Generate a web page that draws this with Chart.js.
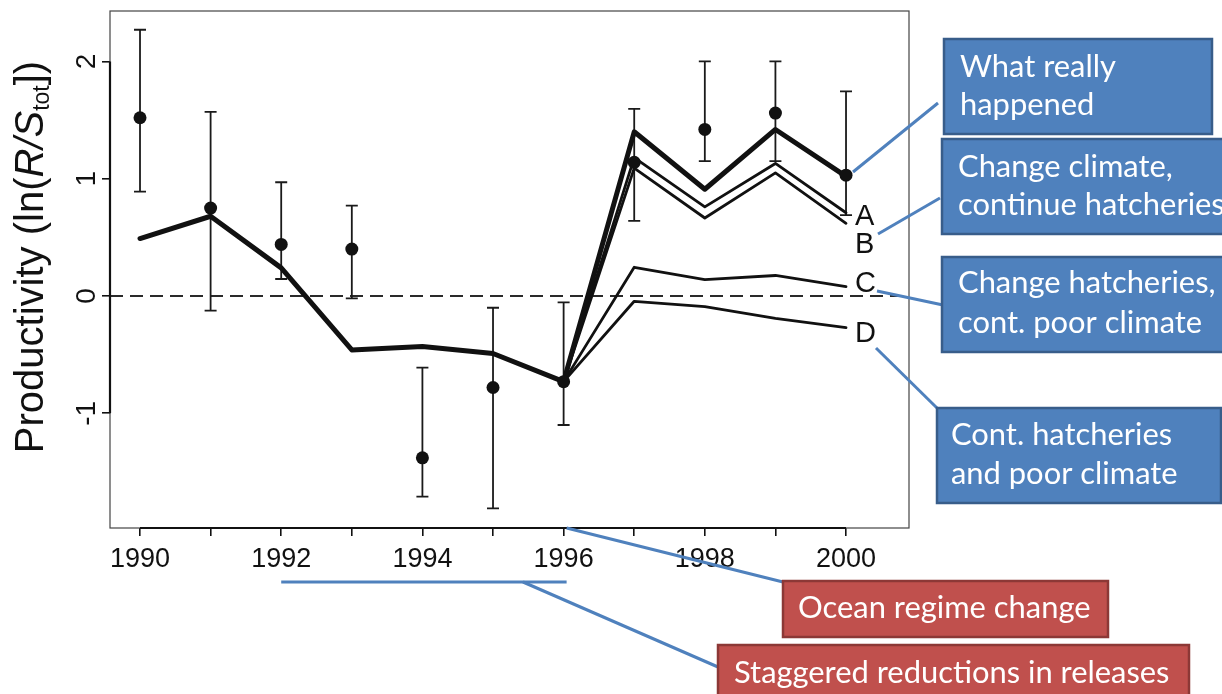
<!DOCTYPE html>
<html>
<head>
<meta charset="utf-8">
<title>Productivity scenarios 1990–2000</title>
<script src="https://cdn.jsdelivr.net/npm/chart.js@4/dist/chart.umd.min.js"></script>
<style>
  html, body { margin: 0; padding: 0; background: #ffffff; }
  canvas { display: block; }
</style>
</head>
<body>
<canvas id="chart" width="1222" height="694"></canvas>
<script>
// ---- data -------------------------------------------------------------
const years = [1990, 1991, 1992, 1993, 1994, 1995, 1996, 1997, 1998, 1999, 2000];
const observed     = [1.52, 0.75, 0.44, 0.40, -1.38, -0.78, -0.73, 1.14, 1.42, 1.56, 1.03];
const observedHigh = [2.27, 1.57, 0.97, 0.77, -0.61, -0.10, -0.055, 1.595, 2.00, 2.00, 1.745];
const observedLow  = [0.89, -0.125, 0.145, -0.02, -1.71, -1.81, -1.10, 0.64, 1.15, 1.15, 0.69];

const fitYears  = [1990, 1991, 1992, 1993, 1994, 1995, 1996];
const fitValues = [0.49, 0.68, 0.24, -0.46, -0.43, -0.49, -0.73];

const scenarioYears = [1996, 1997, 1998, 1999, 2000];
const actualPath = [-0.73, 1.40, 0.91, 1.42, 1.02];
const scenarioA  = [-0.73, 1.18, 0.76, 1.13, 0.71];
const scenarioB  = [-0.73, 1.09, 0.665, 1.05, 0.62];
const scenarioC  = [-0.73, 0.245, 0.14, 0.175, 0.08];
const scenarioD  = [-0.73, -0.045, -0.09, -0.19, -0.27];

const yTickValues = [-1, 0, 1, 2];
const scenarioLetters = ['A', 'B', 'C', 'D'];
const reductionYears = [1992, 1996];
const regimeShiftYear = 1996;

// ---- helpers ----------------------------------------------------------
const pts = (xs, ys) => xs.map((v, i) => ({ x: v, y: ys[i] }));
const R_FONT = '"Liberation Sans", Arial, Helvetica, sans-serif';
const NOTE_FONT = 'Lato, "Open Sans", sans-serif';

function lineSet(label, xs, ys, width, order) {
  return {
    label, data: pts(xs, ys), showLine: true,
    borderColor: '#111', borderWidth: width, pointRadius: 0,
    borderJoinStyle: 'round', borderCapStyle: 'round', fill: false, order
  };
}

// Callout boxes (text, fill, frame) and their leader lines
const noteBoxes = [
  { x: 944, y: 39,  w: 268, h: 95, fill: '#4F81BD', edge: '#385D8A', tx: 960, lines: ['What really', 'happened'], base: [77, 115] },
  { x: 942, y: 139, w: 300, h: 95, fill: '#4F81BD', edge: '#385D8A', tx: 958, lines: ['Change climate,', 'continue hatcheries'], base: [177, 215] },
  { x: 942, y: 257, w: 300, h: 95, fill: '#4F81BD', edge: '#385D8A', tx: 958, lines: ['Change hatcheries,', 'cont. poor climate'], base: [293, 333] },
  { x: 937, y: 408, w: 284, h: 95, fill: '#4F81BD', edge: '#385D8A', tx: 951, lines: ['Cont. hatcheries', 'and poor climate'], base: [445, 484] },
  { x: 783, y: 581, w: 325, h: 56, fill: '#C0504D', edge: '#8C3836', tx: 798, lines: ['Ocean regime change'], base: [618] },
  { x: 718, y: 645, w: 471, h: 62, fill: '#C0504D', edge: '#8C3836', tx: 734, lines: ['Staggered reductions in releases'], base: [683] }
];

const rPlot = {
  id: 'rPlot',
  beforeDatasetsDraw(chart) {
    const { ctx, chartArea: a, scales: { x, y } } = chart;
    ctx.save();
    // dashed zero line
    const y0 = y.getPixelForValue(0);
    ctx.strokeStyle = '#2a2a2a';
    ctx.lineWidth = 2.2;
    ctx.setLineDash([13, 7]);
    ctx.beginPath();
    ctx.moveTo(a.left, y0);
    ctx.lineTo(a.right, y0);
    ctx.stroke();
    ctx.setLineDash([]);
    // error bars around each observation
    ctx.strokeStyle = '#1a1a1a';
    ctx.lineWidth = 1.8;
    years.forEach((yr, i) => {
      const px = x.getPixelForValue(yr);
      const hi = y.getPixelForValue(observedHigh[i]);
      const lo = y.getPixelForValue(observedLow[i]);
      ctx.beginPath();
      ctx.moveTo(px, hi); ctx.lineTo(px, lo);
      ctx.moveTo(px - 6, hi); ctx.lineTo(px + 6, hi);
      ctx.moveTo(px - 6, lo); ctx.lineTo(px + 6, lo);
      ctx.stroke();
    });
    ctx.restore();
  },
  afterDraw(chart) {
    const { ctx, chartArea: a, scales: { x, y } } = chart;
    ctx.save();

    // plot frame
    ctx.strokeStyle = '#444';
    ctx.lineWidth = 1.2;
    ctx.strokeRect(a.left, a.top, a.right - a.left, a.bottom - a.top);

    // axis lines spanning the labelled range
    ctx.strokeStyle = '#111';
    ctx.lineWidth = 2.2;
    ctx.beginPath();
    ctx.moveTo(x.getPixelForValue(years[0]), a.bottom);
    ctx.lineTo(x.getPixelForValue(years[years.length - 1]), a.bottom);
    ctx.moveTo(a.left, y.getPixelForValue(yTickValues[0]));
    ctx.lineTo(a.left, y.getPixelForValue(yTickValues[yTickValues.length - 1]));
    ctx.stroke();

    // rotated y tick labels
    ctx.fillStyle = '#111';
    ctx.font = '28px ' + R_FONT;
    ctx.textAlign = 'center';
    ctx.textBaseline = 'alphabetic';
    yTickValues.forEach(v => {
      ctx.save();
      ctx.translate(a.left - 15, y.getPixelForValue(v));
      ctx.rotate(-Math.PI / 2);
      ctx.fillText(String(v), 0, 0);
      ctx.restore();
    });

    // y axis title: Productivity (ln(R/S_tot])
    const main = 40, sub = 23;
    const parts = [
      { t: 'Productivity (ln(', f: main + 'px ' + R_FONT, dy: 0 },
      { t: 'R/S', f: 'italic ' + main + 'px ' + R_FONT, dy: 0 },
      { t: 'tot', f: sub + 'px ' + R_FONT, dy: 6 },
      { t: '])', f: main + 'px ' + R_FONT, dy: 0 }
    ];
    let total = 0;
    parts.forEach(p => { ctx.font = p.f; p.w = ctx.measureText(p.t).width; total += p.w; });
    ctx.save();
    ctx.translate(43, 257);
    ctx.rotate(-Math.PI / 2);
    ctx.textAlign = 'left';
    let cx = -total / 2;
    parts.forEach(p => { ctx.font = p.f; ctx.fillText(p.t, cx, p.dy); cx += p.w; });
    ctx.restore();

    // scenario letters at the line ends
    const letterLevels = [0.673, 0.435, 0.10, -0.324];
    ctx.font = '29px ' + R_FONT;
    ctx.textAlign = 'left';
    ctx.textBaseline = 'middle';
    scenarioLetters.forEach((s, i) => {
      ctx.fillText(s, x.getPixelForValue(2000) + 9, y.getPixelForValue(letterLevels[i]));
    });

    // bar under the years with staggered release reductions
    const blue = '#4F81BD';
    ctx.strokeStyle = blue;
    ctx.lineWidth = 3;
    ctx.lineCap = 'butt';
    ctx.beginPath();
    ctx.moveTo(x.getPixelForValue(reductionYears[0]), 582);
    ctx.lineTo(x.getPixelForValue(reductionYears[1]) + 3, 582);
    ctx.stroke();

    // leader lines
    const leaders = [
      [853, 172, 938, 103],
      [878, 234, 940, 198],
      [877, 291, 943, 305],
      [876, 348, 937, 408],
      [x.getPixelForValue(regimeShiftYear) + 3, a.bottom, 783, 582],
      [523, 582, 718, 667]
    ];
    leaders.forEach(([x1, y1, x2, y2]) => {
      ctx.beginPath();
      ctx.moveTo(x1, y1);
      ctx.lineTo(x2, y2);
      ctx.stroke();
    });

    // callout boxes
    ctx.font = '100px ' + NOTE_FONT;
    const ref = ctx.measureText('Staggered reductions in releases').width;
    const noteSize = Math.round(100 * 436 / ref * 10) / 10;
    noteBoxes.forEach(b => {
      ctx.fillStyle = b.fill;
      ctx.fillRect(b.x, b.y, b.w, b.h);
      ctx.strokeStyle = b.edge;
      ctx.lineWidth = 2.5;
      ctx.strokeRect(b.x, b.y, b.w, b.h);
      ctx.fillStyle = '#ffffff';
      ctx.font = noteSize + 'px ' + NOTE_FONT;
      ctx.textAlign = 'left';
      ctx.textBaseline = 'alphabetic';
      b.lines.forEach((t, i) => ctx.fillText(t, b.tx, b.base[i]));
    });

    ctx.restore();
  }
};

function draw() {
  new Chart(document.getElementById('chart'), {
    type: 'scatter',
    data: {
      datasets: [
        {
          label: 'Observed',
          data: pts(years, observed),
          showLine: false,
          pointRadius: 6.5,
          pointBackgroundColor: '#111',
          pointBorderColor: '#111',
          pointBorderWidth: 0,
          order: 0
        },
        lineSet('Model fit', fitYears, fitValues, 5, 1),
        lineSet('What really happened', scenarioYears, actualPath, 5, 2),
        lineSet('A', scenarioYears, scenarioA, 2.8, 3),
        lineSet('B', scenarioYears, scenarioB, 2.8, 4),
        lineSet('C', scenarioYears, scenarioC, 2.8, 5),
        lineSet('D', scenarioYears, scenarioD, 2.8, 6)
      ]
    },
    options: {
      responsive: false,
      animation: false,
      devicePixelRatio: 1,
      layout: { padding: { top: 11, right: 313, left: 0, bottom: 0 } },
      plugins: { legend: { display: false }, tooltip: { enabled: false } },
      events: [],
      scales: {
        x: {
          type: 'linear',
          min: 1989.575,
          max: 2000.892,
          afterBuildTicks: s => { s.ticks = years.map(v => ({ value: v })); },
          afterFit: s => { s.height = 166; },
          border: { display: false },
          grid: { drawOnChartArea: false, drawTicks: true, tickLength: 8, color: '#111', lineWidth: 1.6 },
          ticks: {
            autoSkip: false, maxRotation: 0, minRotation: 0, padding: 7,
            color: '#111',
            font: { family: R_FONT, size: 27 },
            callback: v => (v % 2 === 0 ? String(v) : '')
          }
        },
        y: {
          type: 'linear',
          min: -1.978,
          max: 2.43,
          afterBuildTicks: s => { s.ticks = yTickValues.map(v => ({ value: v })); },
          afterFit: s => { s.width = 110; },
          border: { display: false },
          grid: { drawOnChartArea: false, drawTicks: true, tickLength: 8, color: '#111', lineWidth: 1.6 },
          ticks: { display: false }
        }
      }
    },
    plugins: [rPlot]
  });
}

Promise.all([
  document.fonts.load('26px Lato'),
  document.fonts.load('25px "Liberation Sans"'),
  document.fonts.load('italic 38px "Liberation Sans"')
]).then(draw, draw);
</script>
</body>
</html>
